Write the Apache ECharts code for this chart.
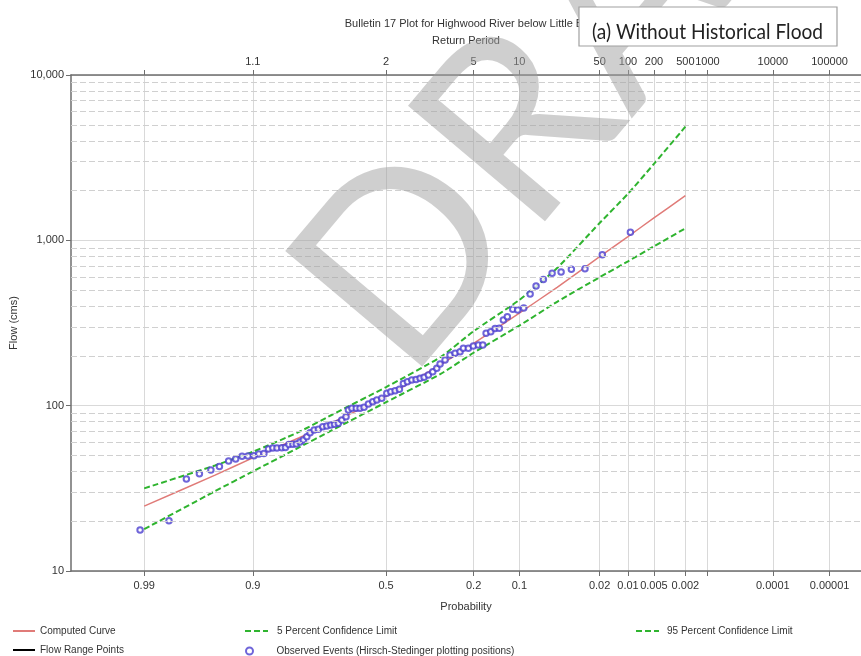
<!DOCTYPE html>
<html><head><meta charset="utf-8">
<script src="https://cdn.jsdelivr.net/npm/echarts@6/dist/echarts.min.js"></script>
<style>html,body{margin:0;padding:0;background:#fff}#c{width:861px;height:656px}</style>
</head><body><div id="c"></div>
<script>
// ---- data ----
// probability (exceedance) ticks and labels
const probTicks = [0.99, 0.9, 0.5, 0.2, 0.1, 0.02, 0.01, 0.005, 0.002, 0.001, 0.0001, 0.00001];
const probLabels = ['0.99', '0.9', '0.5', '0.2', '0.1', '0.02', '0.01', '0.005', '0.002', '', '0.0001', '0.00001'];
const returnLabels = ['', '1.1', '2', '5', '10', '50', '100', '200', '500', '1000', '10000', '100000'];
const flowMinorLines = [20, 30, 40, 50, 60, 70, 80, 90, 200, 300, 400, 500, 600, 700, 800, 900, 2000, 3000, 4000, 5000, 6000, 7000, 8000, 9000];

// frequency curves
const curveProb = [0.99, 0.95, 0.9, 0.8, 0.7, 0.5, 0.3, 0.2, 0.1, 0.05, 0.02, 0.01, 0.005, 0.002];
const computedCurve = [24.7, 38.0, 48.3, 63.7, 78.7, 114.3, 177, 238, 363, 520, 796, 1054, 1366, 1861];
const conf5 = [31.6, 43.5, 52.6, 69.2, 87.8, 129.6, 197, 282, 436, 680, 1273, 1914, 2900, 4867];
const conf95 = [17.9, 30.4, 40.0, 55.7, 70.8, 105, 155.5, 209, 305, 425, 598, 747, 920, 1182];

// observed events (Hirsch-Stedinger plotting positions)
const obsProb = [0.991, 0.9816, 0.9726, 0.9637, 0.954, 0.9455, 0.935, 0.926, 0.917, 0.908,
  0.898, 0.8895, 0.880, 0.871, 0.862, 0.853, 0.842, 0.8335, 0.825, 0.815,
  0.806, 0.796, 0.787, 0.777, 0.7676, 0.7555, 0.7425, 0.7287, 0.7157, 0.7026,
  0.690, 0.677, 0.665, 0.650, 0.6415, 0.629, 0.613, 0.599, 0.584, 0.5675,
  0.551, 0.5356, 0.5165, 0.4973, 0.482, 0.4655, 0.449, 0.434, 0.4189, 0.4024,
  0.3865, 0.3718, 0.3575, 0.3421, 0.3267, 0.3129, 0.3018, 0.2853, 0.2693, 0.2535,
  0.2384, 0.2287, 0.2145, 0.2007, 0.1874, 0.1762, 0.1681, 0.157, 0.1473, 0.1381,
  0.1297, 0.1218, 0.1116, 0.1028, 0.0928, 0.083, 0.0746, 0.0652, 0.0552, 0.0462,
  0.0374, 0.0279, 0.0188, 0.0094];
const obsFlow = [17.7, 20.1, 36.0, 38.7, 40.8, 42.9, 46.2, 47.5, 49.4, 49.6,
  49.8, 51.0, 51.4, 54.6, 55.4, 55.5, 55.6, 55.8, 58.3, 58.5,
  58.7, 60.2, 61.9, 64.8, 68.6, 71.2, 71.9, 74.6, 75.3, 76.3,
  77.1, 78.2, 81.9, 85.7, 94.1, 96.3, 96.5, 96.6, 97.7, 102.2,
  105.6, 108.1, 110.7, 118.7, 121.4, 122.9, 125.5, 136.4, 139.5, 142.8,
  144.2, 146.3, 148.3, 153.2, 160.4, 168.2, 178.5, 188.7, 202.4, 207.2,
  211.9, 222.2, 222.5, 229.4, 232.6, 232.8, 273.7, 279.9, 293.4, 293.6,
  329.5, 345.1, 382.4, 378.8, 389.4, 473.3, 529.0, 579, 631.5, 643,
  667.6, 673.2, 818.3, 1118];

// ---- normal probability scale ----
function qnorm(p) {
  const a = [-3.969683028665376e+01, 2.209460984245205e+02, -2.759285104469687e+02, 1.383577518672690e+02, -3.066479806614716e+01, 2.506628277459239e+00];
  const b = [-5.447609879822406e+01, 1.615858368580409e+02, -1.556989798598866e+02, 6.680131188771972e+01, -1.328068155288572e+01];
  const c = [-7.784894002430293e-03, -3.223964580411365e-01, -2.400758277161838e+00, -2.549732539343734e+00, 4.374664141464968e+00, 2.938163982698783e+00];
  const d = [7.784695709041462e-03, 3.224671290700398e-01, 2.445134137142996e+00, 3.754408661907416e+00];
  const plow = 0.02425, phigh = 1 - plow;
  let q, r;
  if (p < plow) {
    q = Math.sqrt(-2 * Math.log(p));
    return (((((c[0]*q+c[1])*q+c[2])*q+c[3])*q+c[4])*q+c[5]) / ((((d[0]*q+d[1])*q+d[2])*q+d[3])*q+1);
  }
  if (p <= phigh) {
    q = p - 0.5; r = q * q;
    return (((((a[0]*r+a[1])*r+a[2])*r+a[3])*r+a[4])*r+a[5])*q / (((((b[0]*r+b[1])*r+b[2])*r+b[3])*r+b[4])*r+1);
  }
  q = Math.sqrt(-2 * Math.log(1 - p));
  return -(((((c[0]*q+c[1])*q+c[2])*q+c[3])*q+c[4])*q+c[5]) / ((((d[0]*q+d[1])*q+d[2])*q+d[3])*q+1);
}
const zOf = pExc => qnorm(1 - pExc);
const zTicks = probTicks.map(zOf);
function labelFor(v, labels) {
  let best = 0, bd = Infinity;
  zTicks.forEach((t, i) => { const dd = Math.abs(t - v); if (dd < bd) { bd = dd; best = i; } });
  return bd < 1e-6 ? labels[best] : '';
}
const X_MIN = -3.03, X_MAX = 4.567;

const FONT = '"Liberation Sans", Arial, sans-serif';
const txt = { color: '#333', fontSize: 11, fontFamily: FONT };
const legTxt = { color: '#333', fontSize: 10, fontFamily: FONT };
const axisCol = '#6e6e6e';
const gridCol = '#d9d9d9';

const pair = (ps, vs) => ps.map((p, i) => [zOf(p), vs[i]]);

const chart = echarts.init(document.getElementById('c'), null, { renderer: 'canvas' });

// measure text for box label width fit
const cv = document.createElement('canvas').getContext('2d');
cv.font = '22px Lato';
const boxText = '(a) Without Historical Flood';
const boxScale = 231 / cv.measureText(boxText).width;

const lineLegend = (name, left, top, w, padL) => ({
  data: [name], left, top, padding: 0, itemWidth: w, itemHeight: 10,
  itemStyle: { opacity: 0 }, textStyle: { ...legTxt, padding: [0, 0, 0, padL] }
});

const option = {
  animation: false,
  backgroundColor: '#fff',
  title: {
    text: 'Bulletin 17 Plot for Highwood River below Little Bow',
    left: 466, textAlign: 'center', top: 13,
    textStyle: { color: '#333', fontSize: 11, fontWeight: 'normal', fontFamily: FONT }
  },
  grid: { left: 71, right: 0, top: 75, bottom: 85, containLabel: false, outerBoundsMode: 'none' },
  legend: [
    lineLegend('Computed Curve', 12, 626, 22, 0),
    lineLegend('Flow Range Points', 12, 645, 22, 0),
    lineLegend('5 Percent Confidence Limit', 244, 626, 23, 4),
    lineLegend('95 Percent Confidence Limit', 635, 626, 23, 3),
    { data: ['Observed Events (Hirsch-Stedinger plotting positions)'], left: 245, top: 646, padding: 0, itemWidth: 8, itemHeight: 7,
      textStyle: { ...legTxt, padding: [0, 0, 0, 18] } }
  ],
  xAxis: [
    {
      type: 'value', position: 'bottom', min: X_MIN, max: X_MAX,
      axisLine: { show: true, onZero: false, lineStyle: { color: axisCol, width: 1.5 } },
      axisTick: { show: true, customValues: zTicks, length: 5, lineStyle: { color: axisCol } },
      axisLabel: { customValues: zTicks, formatter: v => labelFor(v, probLabels), margin: 9, ...txt },
      splitLine: { show: true, lineStyle: { color: gridCol, width: 1 } },
      name: 'Probability', nameLocation: 'middle', nameGap: 30,
      nameTextStyle: { ...txt }
    },
    {
      type: 'value', position: 'top', min: X_MIN, max: X_MAX,
      axisLine: { show: true, onZero: false, lineStyle: { color: axisCol, width: 1.5 } },
      axisTick: { show: true, customValues: zTicks, length: 5, lineStyle: { color: axisCol } },
      axisLabel: { customValues: zTicks, formatter: v => labelFor(v, returnLabels), margin: 8, ...txt },
      splitLine: { show: false },
      name: 'Return Period', nameLocation: 'middle', nameGap: 29,
      nameTextStyle: { ...txt }
    }
  ],
  yAxis: {
    type: 'log', logBase: 10, min: 10, max: 10000,
    axisLine: { show: true, onZero: false, lineStyle: { color: axisCol, width: 1.5 } },
    axisTick: { show: true, length: 5, lineStyle: { color: axisCol } },
    axisLabel: { formatter: v => Number(v).toLocaleString('en-US'), margin: 7, ...txt },
    splitLine: { show: true, lineStyle: { color: gridCol, width: 1 } },
    minorTick: { show: false }, minorSplitLine: { show: false },
    name: 'Flow (cms)', nameLocation: 'middle', nameGap: 44, nameRotate: 90,
    nameTextStyle: { ...txt }
  },
  series: [
    {
      name: 'Flow Range Points', type: 'line', data: [], symbol: 'none', z: 1,
      lineStyle: { color: '#000', width: 2 }, itemStyle: { color: '#000' },
      markLine: {
        silent: true, symbol: ['none', 'none'], label: { show: false },
        lineStyle: { color: '#d0d0d0', type: [6, 3], width: 1 },
        emphasis: { disabled: true },
        data: flowMinorLines.map(v => ({ yAxis: v }))
      }
    },
    {
      name: 'Computed Curve', type: 'line', data: pair(curveProb, computedCurve), symbol: 'none', smooth: 0.2,
      lineStyle: { color: '#e07b78', width: 1.5 }, itemStyle: { color: '#e07b78' }, z: 3
    },
    {
      name: '5 Percent Confidence Limit', type: 'line', data: pair(curveProb, conf5), symbol: 'none', smooth: 0.2,
      lineStyle: { color: '#2fb42f', width: 2, type: [6, 3] }, itemStyle: { color: '#2fb42f' }, z: 3
    },
    {
      name: '95 Percent Confidence Limit', type: 'line', data: pair(curveProb, conf95), symbol: 'none', smooth: 0.2,
      lineStyle: { color: '#2fb42f', width: 2, type: [6, 3] }, itemStyle: { color: '#2fb42f' }, z: 3
    },
    {
      name: 'Observed Events (Hirsch-Stedinger plotting positions)', type: 'scatter',
      data: pair(obsProb, obsFlow), symbol: 'emptyCircle', symbolSize: 5.5,
      itemStyle: { color: '#4b3fd0', borderColor: '#4b3fd0', borderWidth: 1 }, z: 4
    }
  ],
  graphic: [
    {
      type: 'text', x: 346, y: 332, rotation: 0.87, z: 100, silent: true,
      style: { text: 'DRAFT', fontSize: 250, fontFamily: 'Lato', fill: 'rgba(160,160,160,0.5)', align: 'left', verticalAlign: 'middle' }
    },
    {
      type: 'rect', shape: { x: 579, y: 7, width: 258, height: 39 }, z: 110,
      style: { fill: '#fff', stroke: '#a0a0a0', lineWidth: 1.2 }
    },
    {
      type: 'text', x: 592, y: 32, scaleX: boxScale, z: 111,
      style: { text: boxText, fontSize: 22, fontFamily: 'Lato', fill: '#222', align: 'left', verticalAlign: 'middle' }
    }
  ]
};
chart.setOption(option);
</script>
</body></html>
